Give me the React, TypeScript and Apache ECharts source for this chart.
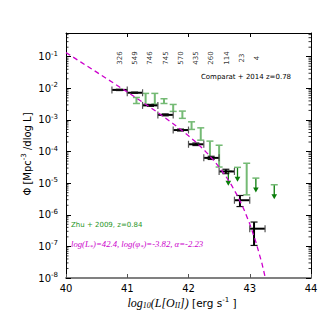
import React, { useEffect, useRef } from 'react';
import * as echarts from 'echarts';

// Comparat + 2014 (black): bins in log10 L, log10 Phi
const comparatBinLow = [40.75, 41.0, 41.25, 41.5, 41.75, 42.0, 42.25, 42.5, 42.75, 43.0];
const comparatBinHigh = [41.0, 41.25, 41.5, 41.75, 42.0, 42.25, 42.5, 42.75, 43.0, 43.25];
const comparatX = [40.87, 41.12, 41.38, 41.62, 41.87, 42.12, 42.37, 42.61, 42.84, 43.07];
const comparatLogPhi = [-2.05, -2.14, -2.54, -2.84, -3.32, -3.77, -4.2, -4.63, -5.54, -6.44];
const comparatLogPhiLow = [-2.07, -2.16, -2.57, -2.87, -3.35, -3.81, -4.25, -4.7, -5.74, -6.97];
const comparatLogPhiHigh = [-2.03, -2.12, -2.51, -2.81, -3.29, -3.73, -4.15, -4.56, -5.39, -6.23];

// counts written above the bins
const countX = [40.875, 41.125, 41.375, 41.625, 41.875, 42.125, 42.375, 42.625, 42.875, 43.125];
const countLabels = ['326', '549', '746', '745', '570', '435', '260', '114', '23', '4'];
const countLogY = -1.04;

// Zhu + 2009 (green)
const zhuX = [41.15, 41.3, 41.45, 41.6, 41.75, 41.9, 42.05, 42.2, 42.35, 42.5, 42.65, 42.8, 42.95, 43.1, 43.4];
const zhuLogPhiHigh = [-2.29, -2.16, -2.16, -2.33, -2.51, -2.72, -3.06, -3.25, -3.67, -3.8, -4.62, -4.5, -4.37, -4.84, -5.05];
const zhuLogPhiLow = [-2.48, -2.51, -2.5, -2.48, -2.73, -2.95, -3.3, -3.64, -4.22, -4.49, -4.62, -4.5, -5.37, -4.84, -5.05];
const zhuUpperLimit = [0, 0, 0, 0, 0, 0, 0, 0, 0, 0, 1, 1, 0, 1, 1];

// Schechter model curve (magenta dashed)
const schechterX = [40.0, 40.25, 40.5, 40.75, 41.0, 41.25, 41.5, 41.75, 42.0, 42.1, 42.2, 42.3, 42.4, 42.5, 42.6, 42.7, 42.8, 42.9, 43.0, 43.1, 43.2, 43.3];
const schechterLogPhi = [-0.87, -1.179, -1.488, -1.8, -2.115, -2.436, -2.768, -3.118, -3.501, -3.669, -3.848, -4.042, -4.254, -4.49, -4.754, -5.056, -5.403, -5.808, -6.287, -6.858, -7.544, -8.377];

const xTicks = [40, 41, 42, 43, 44];
const yMin = -8;
const yMax = -0.25;

const FONT = 'DejaVu Sans';

export default function App() {
  const ref = useRef<HTMLDivElement>(null);
  useEffect(() => {
    if (!ref.current) return;
    const chart = echarts.init(ref.current, null, { renderer: 'svg' });

    const minorTickData: number[][] = [];
    for (let n = -8; n < 0; n++) {
      for (let k = 2; k <= 9; k++) {
        const v = n + Math.log10(k);
        if (v < yMax) minorTickData.push([40, v]);
      }
    }

    const comparatData = comparatX.map((x, i) => [x, comparatLogPhi[i], comparatBinLow[i], comparatBinHigh[i], comparatLogPhiLow[i], comparatLogPhiHigh[i]]);
    const zhuData = zhuX.map((x, i) => [x, zhuLogPhiHigh[i], zhuLogPhiLow[i], zhuUpperLimit[i]]);
    const curveData = schechterX.map((x, i) => [x, schechterLogPhi[i]]);
    const countData = countX.map((x, i) => [x, countLogY, countLabels[i]]);

    const supRich = {
      b: { fontSize: 10, fontFamily: FONT, color: '#000' },
      s: { fontSize: 7, fontFamily: FONT, color: '#000', padding: [0, 0, 6, 0] },
    };

    const option: any = {
      animation: false,
      grid: { left: 66, right: 16, top: 33, bottom: 49 },
      xAxis: [
        {
          type: 'value', position: 'bottom', min: xTicks[0], max: xTicks[xTicks.length - 1], interval: 1,
          axisLine: { show: true, onZero: false, lineStyle: { color: '#808080', width: 2 } },
          axisTick: { show: true, inside: true, length: 4, lineStyle: { color: '#555', width: 1 } },
          axisLabel: { fontSize: 10, fontFamily: FONT, color: '#000', margin: 5 },
          splitLine: { show: false },
        },
        {
          type: 'value', position: 'top', min: xTicks[0], max: xTicks[xTicks.length - 1], interval: 1,
          axisLine: { show: true, onZero: false, lineStyle: { color: '#000', width: 1 } },
          axisTick: { show: true, inside: true, length: 4, lineStyle: { color: '#000', width: 1 } },
          axisLabel: { show: false },
          splitLine: { show: false },
        },
      ],
      yAxis: [
        {
          type: 'value', position: 'left', min: yMin, max: yMax, interval: 1,
          axisLine: { show: true, onZero: false, lineStyle: { color: '#000', width: 1 } },
          axisTick: { show: true, inside: true, length: 5, lineStyle: { color: '#000', width: 1 } },
          axisLabel: {
            margin: 8, fontFamily: FONT, color: '#000',
            formatter: (v: number) => (Math.abs(v - Math.round(v)) < 1e-6 ? `{b|10}{s|${Math.round(v)}}` : ''),
            rich: supRich,
          },
          splitLine: { show: false },
        },
        {
          type: 'value', position: 'right', min: yMin, max: yMax, interval: 1,
          axisLine: { show: true, onZero: false, lineStyle: { color: '#000', width: 1 } },
          axisTick: { show: true, inside: true, length: 5, lineStyle: { color: '#000', width: 1 } },
          axisLabel: { show: false },
          splitLine: { show: false },
        },
      ],
      series: [
        {
          type: 'custom', name: 'minor', data: minorTickData, silent: true,
          renderItem: (params: any, api: any) => {
            const v = api.value(1);
            const pl = api.coord([40, v]);
            const pr = api.coord([44, v]);
            return {
              type: 'group', children: [
                { type: 'line', shape: { x1: pl[0], y1: pl[1], x2: pl[0] + 2.5, y2: pl[1] }, style: { stroke: '#000', lineWidth: 0.8 } },
                { type: 'line', shape: { x1: pr[0], y1: pr[1], x2: pr[0] - 2.5, y2: pr[1] }, style: { stroke: '#000', lineWidth: 0.8 } },
              ],
            };
          },
        },
        {
          type: 'custom', name: 'Zhu + 2009', data: zhuData,
          renderItem: (params: any, api: any) => {
            const x = api.value(0);
            const top = api.coord([x, api.value(1)]);
            const ul = api.value(3);
            const light = '#74ba74';
            const dark = '#0a7d0a';
            const c = 3.5;
            if (ul) {
              const L = 14.5;
              return {
                type: 'group', children: [
                  { type: 'line', shape: { x1: top[0], y1: top[1], x2: top[0], y2: top[1] + L - 4 }, style: { stroke: dark, lineWidth: 1.3 } },
                  { type: 'polygon', shape: { points: [[top[0] - 2.8, top[1] + L - 5], [top[0] + 2.8, top[1] + L - 5], [top[0], top[1] + L]] }, style: { fill: dark } },
                  { type: 'line', shape: { x1: top[0] - c, y1: top[1], x2: top[0] + c, y2: top[1] }, style: { stroke: light, lineWidth: 1.5 } },
                ],
              };
            }
            const bot = api.coord([x, api.value(2)]);
            return {
              type: 'group', children: [
                { type: 'line', shape: { x1: top[0], y1: top[1], x2: bot[0], y2: bot[1] }, style: { stroke: light, lineWidth: 2 } },
                { type: 'line', shape: { x1: top[0] - c, y1: top[1], x2: top[0] + c, y2: top[1] }, style: { stroke: light, lineWidth: 1.5 } },
                { type: 'line', shape: { x1: bot[0] - c, y1: bot[1], x2: bot[0] + c, y2: bot[1] }, style: { stroke: light, lineWidth: 1.5 } },
              ],
            };
          },
        },
        {
          type: 'custom', name: 'Comparat + 2014', data: comparatData,
          renderItem: (params: any, api: any) => {
            const xc = api.value(0), y = api.value(1);
            const pl = api.coord([api.value(2), y]);
            const ph = api.coord([api.value(3), y]);
            const pyl = api.coord([xc, api.value(4)]);
            const pyh = api.coord([xc, api.value(5)]);
            const c = 3.5;
            const capC = '#555';
            return {
              type: 'group', children: [
                { type: 'line', shape: { x1: pl[0], y1: pl[1], x2: ph[0], y2: ph[1] }, style: { stroke: '#000', lineWidth: 2 } },
                { type: 'line', shape: { x1: pl[0], y1: pl[1] - c, x2: pl[0], y2: pl[1] + c }, style: { stroke: capC, lineWidth: 1.2 } },
                { type: 'line', shape: { x1: ph[0], y1: ph[1] - c, x2: ph[0], y2: ph[1] + c }, style: { stroke: capC, lineWidth: 1.2 } },
                { type: 'line', shape: { x1: pyl[0], y1: pyl[1], x2: pyh[0], y2: pyh[1] }, style: { stroke: '#000', lineWidth: 2 } },
                { type: 'line', shape: { x1: pyl[0] - c, y1: pyl[1], x2: pyl[0] + c, y2: pyl[1] }, style: { stroke: '#111', lineWidth: 1.2 } },
                { type: 'line', shape: { x1: pyh[0] - c, y1: pyh[1], x2: pyh[0] + c, y2: pyh[1] }, style: { stroke: '#111', lineWidth: 1.2 } },
              ],
            };
          },
        },
        {
          type: 'line', name: 'Schechter', data: curveData, showSymbol: false, symbol: 'none',
          lineStyle: { color: '#cc00cc', width: 1.3, type: [5, 3.5] },
          clip: true,
        },
        {
          type: 'scatter', name: 'counts', data: countData, symbolSize: 1,
          itemStyle: { color: 'rgba(0,0,0,0)' },
          label: {
            show: true, position: 'inside', rotate: 90, fontSize: 7, fontFamily: FONT, color: '#000',
            formatter: (p: any) => p.value[2],
          },
        },
      ],
      graphic: [
        {
          type: 'text', x: 246, y: 77,
          style: { text: 'Comparat + 2014 z=0.78', fontSize: 7, fontFamily: FONT, fill: '#000', align: 'center', verticalAlign: 'middle' },
        },
        {
          type: 'text', x: 71, y: 225,
          style: { text: 'Zhu + 2009, z=0.84', fontSize: 7, fontFamily: FONT, fill: '#1f951f', align: 'left', verticalAlign: 'middle' },
        },
        {
          type: 'text', x: 71, y: 244,
          style: {
            text: '{m|log(L}{sub|*}{m|)=42.4, log(φ}{sub|*}{m|)=-3.82, α=-2.23}',
            align: 'left', verticalAlign: 'middle',
            rich: {
              m: { fontSize: 8.7, fontFamily: 'Liberation Serif', fontStyle: 'italic', fill: '#cc00cc', color: '#cc00cc' },
              sub: { fontSize: 6.5, fontFamily: 'Liberation Serif', fontStyle: 'italic', fill: '#cc00cc', color: '#cc00cc', padding: [4, 0, 0, 0] },
            },
          },
        },
        {
          type: 'text', x: 182, y: 303,
          style: {
            text: '{i|log}{sub|10}{i|(L[O}{sub|II}{i|])} {n|[erg s}{sup|-1}{n| ]}',
            align: 'center', verticalAlign: 'middle',
            rich: {
              i: { fontSize: 12, fontFamily: 'Liberation Serif', fontStyle: 'italic', color: '#000' },
              sub: { fontSize: 8, fontFamily: 'Liberation Serif', fontStyle: 'italic', color: '#000', padding: [5, 0, 0, 0] },
              n: { fontSize: 10.5, fontFamily: FONT, color: '#000' },
              sup: { fontSize: 7, fontFamily: FONT, color: '#000', padding: [0, 0, 6, 0] },
            },
          },
        },
        {
          type: 'text', x: 27, y: 154, rotation: Math.PI / 2,
          style: {
            text: '{n|Φ [Mpc}{sup|-3}{n| /dlog L]}',
            align: 'center', verticalAlign: 'middle',
            rich: {
              n: { fontSize: 10, fontFamily: FONT, color: '#000' },
              sup: { fontSize: 7, fontFamily: FONT, color: '#000', padding: [0, 0, 6, 0] },
            },
          },
        },
      ],
    };
    chart.setOption(option);
    return () => chart.dispose();
  }, []);
  return <div ref={ref} style={{ position: 'fixed', left: 0, top: 0, width: 327, height: 327, background: '#fff' }} />;
}
